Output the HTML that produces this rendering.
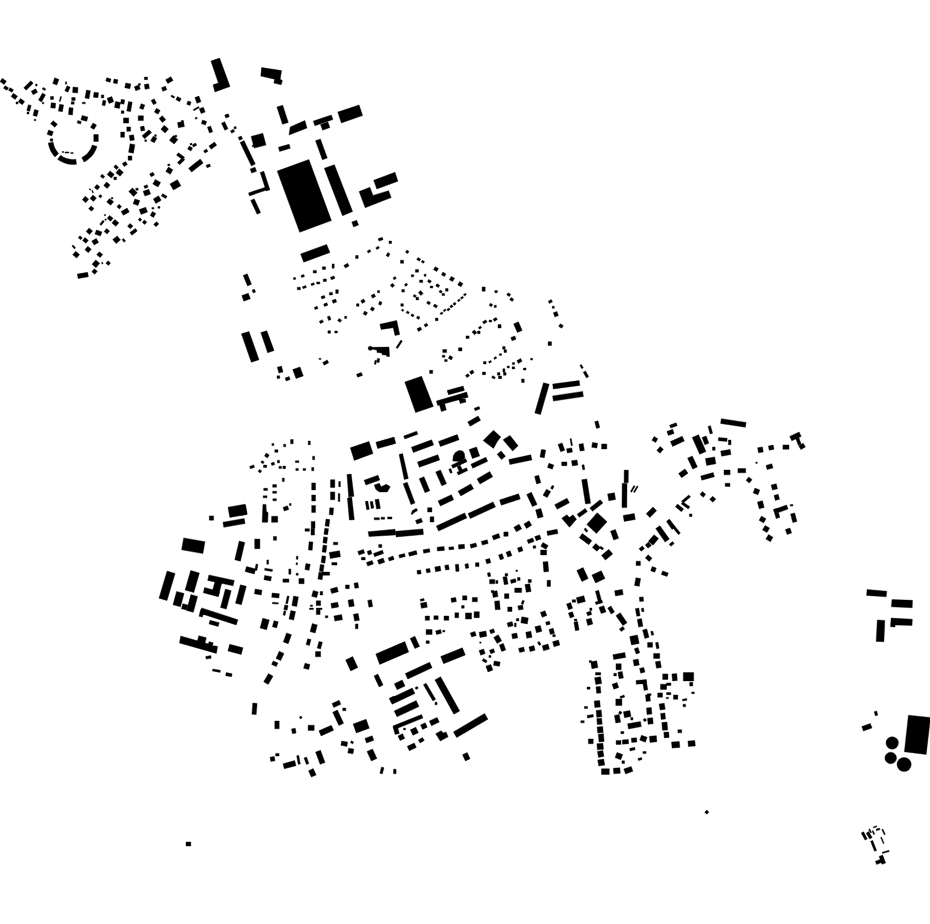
<!DOCTYPE html>
<html><head><meta charset="utf-8"><title>Map</title>
<style>html,body{margin:0;padding:0;background:#fff;width:930px;height:924px;overflow:hidden;font-family:"Liberation Sans",sans-serif}svg{display:block}</style>
</head><body><svg width="930" height="924" viewBox="0 0 930 924"><rect width="930" height="924" fill="#fff"/><g fill="#000" stroke="#000" stroke-width="0.4"><path d="M2.3 78.3 6.4 81.2 4.1 84.5 0 81.6ZM5 85.7 8.5 87.7 7 90.3 3.5 88.3ZM10 87.7 13.5 89.7 12 92.3 8.5 90.3ZM13.4 93.3 17.5 96.2 15.2 99.5 11.1 96.6ZM20.5 98.5 24.6 101.4 22.3 104.7 18.2 101.8ZM16 102 18 102 18 104 16 104ZM28.3 104.7 31.2 105.5 29.7 111.3 26.8 110.5ZM34.5 109.6 38.4 110.6 36.9 116.4 33 115.4ZM34.2 119.2 35.8 119.2 35.8 120.8 34.2 120.8ZM27 112 29 112 29 114 27 114ZM23.8 87.8 30.8 80.8 33.2 83.2 26.2 90.2ZM35.6 84 37.1 84 37.1 86 35.6 86ZM31.2 91.3 35.6 88.8 37.6 92.3 33.2 94.8ZM43.2 87.4 45.8 88.9 44.8 90.6 42.2 89.1ZM38.5 100.1 42.5 93.1 45.5 94.9 41.5 101.9ZM42.2 102.2 43.8 102.2 43.8 103.8 42.2 103.8ZM54.7 77.8 58.9 79.4 56.9 85 52.7 83.4ZM65.4 81.8 66.6 81.8 66.6 84.2 65.4 84.2ZM67.1 85.8 70.2 87.2 67.9 92.2 64.8 90.8ZM73 87 78 87.5 77.6 93 72.6 92.5ZM50.5 96.5 53.5 96.5 53.5 99.5 50.5 99.5ZM60.5 96.4 61.6 96.7 60.3 101.6 59.2 101.3ZM51.2 102.8 55.7 103.2 55.2 108.2 50.7 107.8ZM59.6 104.2 63.6 104.9 62.4 111.8 58.4 111.1ZM71.7 97.5 75.2 97.5 75.2 100.5 71.7 100.5ZM71.2 101.8 74.2 101.8 74.2 104.2 71.2 104.2ZM69.1 107.6 73.1 108 72.5 115 68.5 114.6ZM82.3 102.2 85.3 102.2 85.3 103.8 82.3 103.8ZM86.4 90.1 90.4 90.8 89 98.7 85 98ZM94 92.3 98.5 92.7 98 97.7 93.5 97.3ZM101.3 94.9 103.8 94.9 103.8 97.9 101.3 97.9ZM103 100.3 105.9 100.8 105 105.7 102.1 105.2ZM107.1 98.3 111.8 96.6 113.7 101.7 109 103.4ZM115.6 101.6 120.5 102.5 119.4 108.4 114.5 107.5ZM106.7 77.7 111 78.9 110.1 82.3 105.8 81.1ZM114 79.1 117.9 79.8 117.2 83.7 113.3 83ZM82.1 115.5 87.9 117 86.7 121.3 80.9 119.8ZM77.8 120.6 81.2 121.5 80.6 124 77.2 123.1ZM97 146.4 96.3 148.6 95.3 150.7 94.2 152.7 92.9 154.7 91.4 156.4 89.7 158.1 87.9 159.6 86 160.9 84 162 81.8 157.5 83.4 156.6 84.9 155.5 86.4 154.4 87.7 153.1 88.9 151.6 90 150.1 90.9 148.5 91.6 146.8 92.2 145ZM76.5 164.3 74.3 164.5 72 164.5 69.8 164.3 67.6 163.9 65.5 163.3 63.4 162.6 61.3 161.6 59.4 160.5 57.6 159.2 60.7 155.3 62.1 156.3 63.7 157.2 65.3 158 67 158.6 68.7 159 70.4 159.3 72.2 159.5 74 159.5 75.8 159.3ZM55 156.9 53.5 155.2 52.2 153.4 51 151.5 50.1 149.4 49.3 147.3 48.7 145.2 48.2 143 53.2 142.3 53.5 144 54 145.8 54.6 147.5 55.4 149.1 56.4 150.6 57.4 152 58.6 153.4ZM50.2 138.8 52.8 138.8 52.8 141.2 50.2 141.2ZM48.6 130 53.3 131.7 51.8 136 47.1 134.3ZM53.2 120.7 57.4 124.2 54.8 127.3 50.6 123.8ZM93 123 96.5 125 94 129.4 90.5 127.4ZM93.8 134.5 98.3 134.5 98.3 141.5 93.8 141.5ZM62.2 151.5 63.8 151.5 63.8 152.5 62.2 152.5ZM65 151.9 69 151.9 69 153.1 65 153.1ZM70.8 152.4 73.2 152.4 73.2 153.6 70.8 153.6ZM210.9 61.1 219.6 58.1 230 86.5 214.9 91.9 213 84.8 218.4 83.1ZM125.7 83 130.8 83.9 129.9 88.7 124.8 87.8ZM134.3 86.7 138.9 85 140.3 89.1 135.8 90.8ZM138.4 83.6 140.4 83.6 140.4 85.3 138.4 85.3ZM144.4 77.1 147.5 77.1 147.5 79.7 144.4 79.7ZM144.3 84.5 148.6 83.8 149.4 88.5 145.1 89.3ZM165.6 79.7 170.9 76.7 173.1 80.5 167.8 83.5ZM161.5 87.7 165.5 86.2 166.8 89.8 162.8 91.3ZM171.7 94.9 174.7 96.7 173.9 98.2 170.9 96.4ZM177.5 96.6 181.3 98.7 179.5 101.7 175.8 99.6ZM187.9 100.9 191.1 102.1 190 105.4 186.7 104.2ZM194.9 97.6 198.9 96.1 201 101.8 196.9 103.3ZM193.2 109.6 198.5 106.6 199.2 107.8 193.9 110.8ZM199.3 108.7 203.4 107.2 205.2 112.1 201.1 113.6ZM194.9 118.1 196.7 117.1 197.4 118.3 195.6 119.3ZM202.6 120 206.7 121.5 205.4 125.1 201.3 123.6ZM207.4 127.2 210.6 126 212.7 131.7 209.5 132.9ZM224.7 115.1 228.3 113.8 229.3 116.8 225.8 118.1ZM221.5 123.2 224.7 121.7 228 128.8 224.8 130.3ZM230.4 130.9 233.4 129.2 234.7 131.4 231.7 133.2ZM234.1 126.7 236.2 126.7 236.2 128.8 234.1 128.8ZM238.2 137.2 241.4 136.1 242.5 139 239.3 140.2ZM244 140.6 255.3 164 251.4 165.9 240.1 142.5ZM251.1 136.4 262.8 133.3 266 145 254.2 148.1ZM252.3 145 254.4 145 254.4 146.8 252.3 146.8ZM250.2 169 255 167.2 256.5 171.3 251.6 173.1ZM263.8 171.3 269.9 189.8 266.2 191 260.2 172.5ZM248.5 192.9 266.3 186.9 267.3 189.8 249.5 195.9ZM254.2 198.8 260.6 212.6 257.1 214.2 250.7 200.4ZM121.3 99.3 124.7 99.9 123.9 104.2 120.5 103.6ZM128.5 101.6 132.2 102.2 130.6 111.6 126.8 111ZM121.3 110.8 123.9 110.8 123.9 113.4 121.3 113.4ZM123.5 117.9 128.7 117.9 128.7 123.1 123.5 123.1ZM126.8 126.9 130.6 126.9 130.6 131.3 126.8 131.3ZM120.7 132.1 124.5 132.1 124.5 137.3 120.7 137.3ZM129.2 135.6 133.5 134.8 134.4 140 130.1 140.7ZM130.1 143.8 134.9 144.7 133.4 153.2 128.6 152.3ZM128.1 155.9 131.9 155.9 131.9 160.2 128.1 160.2ZM122.3 163.5 125.6 161.6 127.4 164.6 124.1 166.5ZM141.2 103.7 144.8 105 143.1 109.5 139.5 108.2ZM138.2 115.8 143.4 115.8 143.4 120.6 138.2 120.6ZM140.3 126.8 144 126.1 144.8 130.4 141 131.1ZM142.1 135.8 149 129.8 151.6 132.6 144.6 138.7ZM144.8 139.8 146.5 139.8 146.5 141.6 144.8 141.6ZM153.2 136.2 156.9 138.3 154.3 142.8 150.6 140.7ZM154.6 134.7 156.4 134.7 156.4 136.4 154.6 136.4ZM151.1 100.5 154.1 98.8 156.5 103 153.5 104.7ZM156.4 108.3 160.2 110.5 158 114.2 154.3 112.1ZM159.1 118.5 162.4 115.7 165.8 119.7 162.4 122.5ZM164.2 125.3 168.5 128.9 165.1 132.9 160.9 129.3ZM173.3 135.6 177.9 139.5 174.1 144.1 169.4 140.2ZM174.7 135.2 176.8 135.2 176.8 136.9 174.7 136.9ZM177.5 122.6 183.5 121.5 184.4 126.6 178.4 127.7ZM181.3 120.5 183.4 120.5 183.4 122.2 181.3 122.2ZM178.4 152.8 184.6 157.3 182.8 159.8 176.6 155.3ZM184.8 159.7 179.6 164.8 177.4 162.6 182.6 157.4ZM188.6 168.3 200.2 159.1 203.2 162.9 191.6 172.1ZM189.3 146.1 192.6 148 190.9 151 187.6 149.1ZM192.2 144.9 195.5 143 196.8 145.2 193.5 147.1ZM190.1 143.3 191.9 143.3 191.9 145 190.1 145ZM208.9 146.1 214.5 142.1 216.7 145.2 211.2 149.2ZM203.6 150.8 206.6 149.1 207.9 151.4 204.9 153.1ZM206.1 165.3 209.7 164 210.5 166.4 207 167.7ZM168.4 167.1 172.9 169.7 170.3 174.2 165.8 171.6ZM167.8 164.1 169.9 164.1 169.9 165.8 167.8 165.8ZM169.9 184 177.4 179.7 180.9 185.7 173.4 190ZM149.6 174.1 152.9 172.2 154.5 174.9 151.2 176.8ZM155.4 179.4 160.6 182.4 158 186.9 152.8 183.9ZM143.9 186 147.2 184.8 148 187.2 144.8 188.4ZM143.1 191.3 148.8 189.2 150.6 194.1 144.9 196.1ZM128.7 191.5 132.4 187.9 137.3 192.8 133.6 196.4ZM135.8 188.2 138.2 188.2 138.2 190.2 135.8 190.2ZM134.9 198.9 139.8 200.6 138 205.5 133.1 203.7ZM153.3 198.9 158.6 195.8 161.2 200.3 155.9 203.4ZM162.6 193.7 167.1 196.3 165.8 198.5 161.3 196ZM121.1 211.6 127.1 208.1 129.3 211.9 123.3 215.3ZM139.2 209.6 145.7 207.2 147.5 212.1 141 214.5ZM151.9 207.4 153.9 207.4 153.9 209.1 151.9 209.1ZM157.9 206.5 160 206.5 160 208.2 157.9 208.2ZM96.9 184.4 99.9 186.9 97.4 189.9 94.4 187.4ZM106.6 182 110.1 184.9 107.2 188.4 103.7 185.5ZM89.4 188.5 91 189.5 90.6 190.2 89 189.2ZM91.7 190.6 92.6 190.3 93.5 192.7 92.6 193.1ZM85.2 196.3 88.7 199.2 85.7 202.7 82.3 199.8ZM93 195 96.4 197.9 93.5 201.4 90 198.5ZM100.2 194.4 102.2 196.1 100.5 198.1 98.6 196.4ZM91 205.9 94 208.4 91.6 211.2 88.6 208.7ZM109.6 198.4 113.6 201.7 110.7 205.2 106.7 201.9ZM111.3 197.4 112.9 197.4 112.9 199 111.3 199ZM119 204.3 121.5 206.4 119.4 208.9 116.9 206.8ZM104.3 214.4 105.6 214.4 105.6 215.7 104.3 215.7ZM109.6 215.4 113.1 218.3 110.6 221.3 107.1 218.3ZM114.8 219.4 118.8 222.8 115.9 226.3 111.9 222.9ZM99.7 224.2 102.9 220.3 104.3 221.5 101.1 225.4ZM104.9 219 106.2 219 106.2 220.3 104.9 220.3ZM130 223.4 133 225.9 130.5 228.8 127.5 226.3ZM129.9 232.6 135.4 228.4 137.3 231 131.9 235.2ZM144.3 219.9 146.8 222 144.7 224.5 142.3 222.4ZM139.8 217.8 141.8 219.5 140.2 221.4 138.2 219.8ZM152.4 211.5 155.8 213.4 153.5 217.4 150.2 215.4ZM153.7 224.2 156.7 221.7 158.8 224.1 155.8 226.7ZM89.1 228.1 92.6 231 89.6 234.5 86.1 231.6ZM96.5 229.9 102 231.9 100.4 236.1 94.9 234.1ZM106.6 228.6 109.6 231.1 107.1 234 104.1 231.5ZM79.9 235.8 82.3 237.8 80.7 239.8 78.2 237.7ZM85 237.4 88.4 240.4 85.9 243.3 82.5 240.4ZM91.8 241 96.3 238.4 98.6 242.4 94.1 245ZM112.7 239.6 117.2 235.9 120.5 239.9 116.1 243.6ZM122 239.8 123.5 238.5 125.6 241 124.1 242.3ZM71.9 245.9 73.1 244.9 75.6 247.9 74.4 248.9ZM87.8 246.3 91.3 249.2 88.3 252.7 84.9 249.8ZM75.6 251.3 79.6 254.6 76.6 258.1 72.7 254.7ZM99.3 251.7 102.7 254.6 100.2 257.6 96.7 254.7ZM95.7 259.9 99.7 263.2 96 267.7 92 264.3ZM101.7 262.5 103 262.5 103 263.8 101.7 263.8ZM108 260.8 110.5 262.9 108.4 265.4 105.9 263.3ZM94.3 268.8 97.3 271.3 94.8 274.3 91.8 271.8ZM77.3 274.1 87.6 272.3 88.4 276.8 78.1 278.6ZM261.6 67.5 281.6 70.6 280.2 79.2 282.4 80.6 281.2 84.8 273.9 83.1 274.6 79.2 260.8 76.1ZM282.7 105.2 288.3 122.5 282.5 124.3 276.9 107ZM290.2 126.9 304.9 120.5 307 128.1 289 135ZM313.3 121.1 331.3 115 332.9 119.6 314.9 125.7ZM320.5 124.5 327.8 121.8 329.9 127.5 322.6 130.2ZM337.8 112.1 359.1 104.9 362.6 115.6 341.3 122.9ZM278.4 147.3 289.1 144.2 290.3 148.3 279.6 151.5ZM320.4 139 327.3 158 322.4 159.8 315.5 140.7ZM277.2 171.1 308.9 159.5 331.4 220.6 299.7 232.3ZM324.3 168.2 334.4 164.7 352.6 211.5 342.5 215.8ZM373.7 180.3 395 172.2 397.9 181.2 376.8 189ZM359.1 191.6 369.9 187.2 373 195.4 388.6 190.7 391.2 197.6 365.2 207.7ZM351.8 222 356.7 220.3 358.5 225.1 353.6 226.9ZM300.6 253.9 326.6 244.4 330 252.5 303.7 262.2ZM247.2 273.8 251.5 284.2 247.5 285.9 243.2 275.5ZM241.8 295.5 248.3 293.2 250.4 298.8 243.8 301.2ZM252.1 290.1 254.5 289.2 255.6 292.1 253.2 293ZM293.5 277.6 295.6 277.6 295.6 279.4 293.5 279.4ZM300.9 275.6 303.8 274.6 304.5 276.5 301.6 277.6ZM313.2 270.4 316.4 270.4 316.4 273 313.2 273ZM322.4 266.8 325.5 266.8 325.5 269.4 322.4 269.4ZM332.1 263.9 334.2 263.9 334.2 268.2 332.1 268.2ZM343.8 265.4 347.6 263.2 349.1 265.9 345.4 268.1ZM355.6 255.5 358.2 255.5 358.2 258.6 355.6 258.6ZM367.1 251.2 369.8 249.6 370.9 251.4 368.2 253ZM375.8 247.7 378.5 246.2 379.5 248 376.8 249.5ZM378.1 238.7 382.2 237.2 383.1 239.7 379 241.1ZM389 241 391.6 241 391.6 243.6 389 243.6ZM387.8 252.6 390 253.9 388.3 256.9 386.1 255.6ZM297.3 287.2 300.4 287.2 300.4 289.8 297.3 289.8ZM302.4 286.8 305.7 285.6 306.4 287.5 303.1 288.7ZM310.9 283.8 313.8 282.7 314.5 284.6 311.6 285.7ZM316.7 281.9 319.8 281.9 319.8 284 316.7 284ZM323.3 278.9 326.4 278.9 326.4 281.5 323.3 281.5ZM330.4 277.2 334 275.9 334.9 278.4 331.3 279.7ZM321 296.6 324.3 295.4 325.2 297.8 321.9 299ZM329.4 292.4 332.5 292.4 332.5 295 329.4 295ZM335.7 289.7 338.3 289.7 338.3 293.5 335.7 293.5ZM332 300.4 335.6 299.1 336.7 302 333.1 303.3ZM323.6 304 326.9 302.8 327.8 305.3 324.5 306.4ZM314.3 307.3 317.2 306.3 318.1 308.5 315.1 309.6ZM371.1 295.5 374.1 293.8 375.6 296.5 372.6 298.2ZM377.5 290.6 379.6 290.6 379.6 292.7 377.5 292.7ZM360.7 300.7 363.7 299 365.2 301.7 362.2 303.4ZM356.5 303.7 359 303.7 359 306.3 356.5 306.3ZM379.6 301.3 382 302.2 380.9 305.2 378.5 304.3ZM390.2 285.2 392.6 283.2 394.6 285.6 392.2 287.6ZM393 277.9 395.2 276.6 396.3 278.4 394 279.7ZM406.8 250.1 409 251.4 407.7 253.6 405.5 252.3ZM400.5 260.2 403.6 260.2 403.6 263.3 400.5 263.3ZM418 257.4 420.7 258.9 419.4 261.2 416.7 259.6ZM422.3 260.2 424.5 261.5 423.5 263.3 421.2 262ZM415.4 269.6 418.5 269.6 418.5 272.2 415.4 272.2ZM411.2 274.7 413.8 274.7 413.8 276.8 411.2 276.8ZM424.1 274.2 426.1 274.2 426.1 276.3 424.1 276.3ZM435.2 266.7 438.5 268.6 436.8 271.6 433.5 269.7ZM442.9 272.1 445.9 273.9 444.4 276.6 441.4 274.8ZM451.3 276.4 454.6 278.3 452.6 281.6 449.3 279.7ZM459.6 281.6 462.9 283.5 461 286.8 457.7 284.9ZM419.6 280 422.7 280 422.7 282.6 419.6 282.6ZM428.7 279.4 431.4 280.9 430.1 283.2 427.4 281.6ZM430.2 286 432.8 286 432.8 288 430.2 288ZM437 283.7 439.7 285.3 438.4 287.5 435.7 286ZM404.4 284.8 406.4 283.1 407.7 284.7 405.7 286.4ZM401.8 289.5 404.4 289.5 404.4 292.1 401.8 292.1ZM418.4 292.6 420.7 290.6 423.2 293.5 420.8 295.5ZM414.1 294.4 416.4 295.7 415.3 297.5 413.1 296.2ZM416 297.3 418.6 297.3 418.6 299.9 416 299.9ZM440.1 290.1 442.3 291.4 441.3 293.2 439 291.9ZM442 293.6 444.6 293.6 444.6 295.6 442 295.6ZM445.5 288.6 448.1 288.6 448.1 291.2 445.5 291.2ZM400.8 303.7 403.4 303.7 403.4 306.3 400.8 306.3ZM402.1 308.9 403.9 310 403.1 311.5 401.3 310.4ZM407.2 310.9 409.4 312.2 408.4 314 406.1 312.7ZM411.9 313.8 414.1 315.1 413.1 316.9 410.8 315.6ZM417.7 315.9 420 317.2 418.7 319.4 416.4 318.1ZM427.9 301 430.6 302.6 429.3 304.8 426.6 303.3ZM434.6 304 437.6 305.8 436.3 308 433.3 306.3ZM440 313.3 442.1 311.9 443.1 313.3 441 314.8ZM443.1 310.4 445.2 308.9 446.2 310.3 444.1 311.8ZM446.8 309.4 449 307.9 450.1 309.6 448 311.1ZM449.8 306.3 451.9 304.8 453.1 306.5 451 308ZM452.9 303.7 455 302.2 456.2 303.9 454.1 305.4ZM457.3 300.4 459.4 298.9 460.4 300.3 458.3 301.8ZM460.4 297.8 462.6 296.3 463.6 297.7 461.4 299.2ZM463.4 294.6 465.5 293.2 466.5 294.6 464.4 296.1ZM435.4 318.1 438 318.1 438 320.7 435.4 320.7ZM424 324.7 426.7 323.2 428 325.4 425.3 327ZM417 328.8 420.3 326.9 421.8 329.6 418.5 331.5ZM482.1 286.9 485.2 286.9 485.2 291.2 482.1 291.2ZM494.8 290.6 497.4 290.6 497.4 292.7 494.8 292.7ZM508 292.7 510.7 294.3 509.4 296.5 506.7 295ZM511 297.6 513.7 299.1 512.4 301.4 509.7 299.8ZM490.4 303.2 492.7 304.5 491.4 306.8 489.1 305.5ZM494.2 305.3 496.3 305.3 496.3 307.4 494.2 307.4ZM548.2 301.3 551.2 299.5 552.5 301.8 549.5 303.5ZM552.2 306.2 554.3 306.2 554.3 308.3 552.2 308.3ZM553.3 312.8 556.9 311.5 558.4 315.6 554.8 316.9ZM466 335.9 469.1 335.9 469.1 338.5 466 338.5ZM472 331.9 474.4 329.9 476.9 332.8 474.5 334.8ZM477.5 331.1 480.1 331.1 480.1 333.7 477.5 333.7ZM478.3 327.7 480.3 326.1 481.7 327.6 479.7 329.3ZM482.5 321.8 485.8 319.9 487.1 322.1 483.8 324ZM489.1 320.1 491.7 320.1 491.7 322.1 489.1 322.1ZM493.1 319.1 496.1 317.4 497.4 319.6 494.4 321.4ZM498 324.6 501.1 324.6 501.1 328 498 328ZM518.4 321.8 522.2 330.4 517.4 332.5 513.6 323.9ZM510.8 337.5 514.9 336.1 516 339.3 512 340.8ZM548.1 341.7 551.5 341.7 551.5 345.5 548.1 345.5ZM442.8 349.5 446.6 349.5 446.6 352.6 442.8 352.6ZM442.3 355.2 444.9 355.2 444.9 357.3 442.3 357.3ZM444.6 359.5 447.2 359.5 447.2 361.6 444.6 361.6ZM449.8 355.6 452.8 357.3 451.3 360 448.3 358.3ZM458.5 347.8 462 347.8 462 350.9 458.5 350.9ZM429.6 370.3 432.7 370.3 432.7 373.4 429.6 373.4ZM502.6 346.6 505.2 346.6 505.2 349.2 502.6 349.2ZM504 349.8 506.6 349.8 506.6 352.4 504 352.4ZM499.4 353.7 501.5 353.7 501.5 355.4 499.4 355.4ZM493.7 357.9 495.9 356.6 496.8 358.1 494.5 359.4ZM488.5 361.7 490.7 360.4 491.6 361.9 489.4 363.2ZM483.5 361.4 486.1 361.4 486.1 364 483.5 364ZM516.8 360.7 520.6 358.5 522.1 361.2 518.4 363.4ZM512.4 362.5 514.5 362.5 514.5 364.6 512.4 364.6ZM512.1 366.8 514.7 366.8 514.7 368.9 512.1 368.9ZM507.2 366 509.3 366 509.3 368 507.2 368ZM523.4 368 526 368 526 370.1 523.4 370.1ZM530.6 358.3 532.6 358.3 532.6 360.1 530.6 360.1ZM502.9 368.7 504.9 368.7 504.9 372.2 502.9 372.2ZM497.4 372.6 500 372.6 500 375.2 497.4 375.2ZM498.5 376.1 501.6 376.1 501.6 378.7 498.5 378.7ZM503.5 372.6 506.1 372.6 506.1 375.2 503.5 375.2ZM492.7 375.7 495.4 377.3 494.3 379.1 491.6 377.5ZM482.4 372.1 485.5 372.1 485.5 374.7 482.4 374.7ZM469.6 371.7 472.6 370 474.1 372.7 471.1 374.4ZM465.5 375.3 468.2 373.7 469.5 376 466.8 377.6ZM521.6 379.1 524.2 379.1 524.2 382.6 521.6 382.6ZM319.2 321.4 322.2 319.7 323.5 321.9 320.5 323.6ZM327.3 316.8 329.7 315.9 331 319.5 328.6 320.4ZM338.9 318.5 341.6 320.1 340.3 322.3 337.6 320.8ZM344.6 316.3 346.7 316.3 346.7 318.4 344.6 318.4ZM327.9 330.7 330.5 330.7 330.5 333.3 327.9 333.3ZM334.8 331 337.4 331 337.4 333.1 334.8 333.1ZM241.4 333.8 249 331.5 259 359.7 251.3 362.3ZM260.8 332.6 266.8 330.8 274.1 350.6 267.7 352.8ZM277.3 367.2 281.5 366.1 283 372 278.9 373.1ZM277.1 375.8 279.7 375.8 279.7 378.4 277.1 378.4ZM285.1 378.1 289.1 376.6 290.2 379.5 286.1 381ZM292.7 369.6 300 366.9 303.3 375.9 296 378.5ZM319.1 358.2 320.9 358.2 320.9 359.6 319.1 359.6ZM322.7 362.6 327.2 360 328.7 362.7 324.2 365.3ZM356.5 374.2 361.4 372.5 362.5 375.4 357.6 377.2ZM379.9 324.2 396.7 320.4 399.7 334.6 395 335.5 393.2 327.7 381.1 329.4ZM271.9 443.5 273.9 443.5 273.9 445.6 271.9 445.6ZM274.8 449.7 277.9 449.7 277.9 452.3 274.8 452.3ZM266.2 453.1 269.2 454.9 267.5 457.9 264.5 456.1ZM283.6 444.2 285.7 444.2 285.7 446.8 283.6 446.8ZM290.6 439.5 293.2 439.5 293.2 443.8 290.6 443.8ZM308.2 441 310.3 441 310.3 444.8 308.2 444.8ZM312.6 456.2 314.6 456.2 314.6 459.7 312.6 459.7ZM375.9 442.3 394.1 437.1 395.8 443.4 377.7 448.6ZM350.3 447.8 369 441.4 373 453.5 354.3 460.4ZM261.9 460.6 264.2 461.9 263.1 463.7 260.9 462.4ZM249.6 466.4 253.7 464.9 254.6 467.3 250.5 468.8ZM259.4 469.4 261.7 470.7 260.4 472.9 258.1 471.6ZM263.5 465 266.7 465 266.7 467.6 263.5 467.6ZM271 463.2 273.9 462.1 274.8 464.6 271.9 465.6ZM277.4 460.3 279.5 460.3 279.5 462.9 277.4 462.9ZM278.9 466.3 281.5 466.3 281.5 468.4 278.9 468.4ZM282.9 466.1 285.5 466.1 285.5 468.7 282.9 468.7ZM295.4 460.8 298.9 460.8 298.9 462.5 295.4 462.5ZM295.8 468.4 298.4 468.4 298.4 470.5 295.8 470.5ZM303.1 468.4 305.7 468.4 305.7 470.5 303.1 470.5ZM311.7 467.4 313.8 467.4 313.8 470.8 311.7 470.8ZM282.3 478.1 284.3 478.1 284.3 481.6 282.3 481.6ZM263.7 488.3 267.5 488.3 267.5 490.4 263.7 490.4ZM272.7 484.6 276.5 484.6 276.5 487.2 272.7 487.2ZM272.7 491.3 276.5 491.3 276.5 493.3 272.7 493.3ZM263.2 495.8 267 495.8 267 497.8 263.2 497.8ZM272.9 498.7 276.4 498.7 276.4 500.8 272.9 500.8ZM283 507.4 287.5 505.8 288.8 509.4 284.3 511ZM289.4 503.4 291.1 503.4 291.1 505.5 289.4 505.5ZM262.9 504.4 266 504.4 266.3 511.3 268.1 512.7 267.7 522.3 262.2 522.3ZM271.6 516.3 277.7 516.3 277.7 522.3 271.6 522.3ZM239 506 245.5 504.9 247.2 514.2 240.7 515.4ZM273.4 536.5 276.5 536.5 276.5 540.3 273.4 540.3ZM254.7 539.1 259.9 539.1 259.9 548.7 254.7 548.7ZM311.7 482.9 315.5 482.9 315.5 489.9 311.7 489.9ZM311.7 495 315.5 495 315.5 501 311.7 501ZM311.7 505.5 315.5 505.5 315.5 512.4 311.7 512.4ZM311.2 521.4 315 521.4 315 528.3 311.2 528.3ZM311 528.5 314.5 528.5 314.5 535.1 311 535.1ZM309.1 541.7 312.9 542 312.2 550.3 308.4 549.9ZM305 528.7 309.4 528.7 309.4 531.3 305 531.3ZM330.5 479.7 334.8 479.7 334.8 487.5 330.5 487.5ZM338.7 481.6 340.4 481.6 340.4 486.8 338.7 486.8ZM330.5 491.9 334.8 491.9 334.8 499.7 330.5 499.7ZM338.2 493.6 339.9 493.6 339.9 501.4 338.2 501.4ZM329.8 507.7 333.6 508.1 333 515 329.2 514.6ZM347 474.6 351.2 474.1 353.9 496.3 348.7 497.1ZM347.4 498 351.7 497.1 354.3 519.7 349.4 520ZM326 519.1 329.8 519.6 328.9 526.5 325.1 525.9ZM324.8 528.2 328.5 528.7 327.7 534.7 323.9 534.2ZM323.7 536.8 327.5 537.4 326.7 543.4 322.9 542.8ZM323.1 545 326.9 545.6 325.9 552.4 322.1 551.9ZM322.1 555.8 325.8 556.3 324.9 563.2 321.1 562.6ZM320.3 564.4 324.1 565 323.1 571.8 319.4 571.3ZM318.9 572.2 323.1 572.8 322.2 579.7 317.9 579.1ZM321.8 572.1 329.6 572.1 329.6 575.2 321.8 575.2ZM333.4 542.3 337.7 542.3 337.7 544.8 333.4 544.8ZM329.2 552.5 339.5 550.7 340.5 556.7 330.3 558.5ZM331.8 562.5 337 562.5 337 565.1 331.8 565.1ZM364.1 480.2 378 475.2 379.8 480.1 365.9 485.1ZM374.2 485 379.4 483.3 381.1 486.8 386.3 484.2 390.3 486.8 387.2 491.9 379.4 491.9 375.9 489.4ZM365.3 501.6 367.8 501.1 369.3 509.3 366.7 509.8ZM370.1 501.7 372.6 501.3 373.8 508.1 371.3 508.6ZM375 499.7 378.7 499 380.4 508.4 376.6 509.1ZM374.2 517.7 379.4 517.7 379.4 519.8 374.2 519.8ZM381.1 517.2 384.6 517.2 384.6 519.3 381.1 519.3ZM387.6 516.9 391.9 516.9 391.9 519 387.6 519ZM368.1 531.8 395 529.2 395.8 534.9 369 536.6ZM378.7 544.4 381.8 544.4 381.8 547.5 378.7 547.5ZM357.7 551.5 363.4 549.4 364.7 553 359 555ZM367.1 551.4 370.7 550.1 372 553.7 368.4 555ZM373.5 553.4 382.4 550.2 383.6 553.4 374.6 556.7ZM361.4 557.3 365.2 557.3 365.2 559.9 361.4 559.9ZM366.4 562.5 372.1 560.5 373.4 564 367.7 566.1ZM377.5 560.2 383.2 558.1 384.7 562.2 379 564.3ZM388.1 557.9 393 556.1 394.2 559.4 389.3 561.1ZM255.2 589 262 590.2 261.2 595 254.4 593.8ZM272.1 593.1 279.3 593.7 278.9 597.9 271.7 597.3ZM282.9 578.9 288.9 578.9 288.9 582.3 282.9 582.3ZM288.8 569 290.9 569 290.9 574.2 288.8 574.2ZM298.9 578.5 304.1 578.5 304.1 583.7 298.9 583.7ZM296.1 573.2 298.2 573.2 298.2 575.2 296.1 575.2ZM296.3 556.2 298 556.2 298 559.3 296.3 559.3ZM296.1 562.8 297.5 562.8 297.5 564.8 296.1 564.8ZM246.5 566.5 255.7 568.9 254.3 574 245.1 571.5ZM256 564.1 258 564.5 256.9 570.4 254.9 570.1ZM266.8 559.9 268.6 559.9 268.6 564.2 266.8 564.2ZM264.9 568.2 272.6 569.5 272.2 571.6 264.6 570.2ZM264.7 575.4 271.5 576.7 270.7 580.9 263.9 579.7ZM305.9 563.6 310.2 564.3 309.1 570.3 304.9 569.5ZM313.2 590.6 318.2 591.9 316.7 597.6 311.7 596.3ZM320.1 591.5 322.7 591.5 322.7 595 320.1 595ZM330.4 588.9 337.1 587.1 338.3 591.7 331.7 593.5ZM345.5 584.9 349.3 584.9 349.3 588.7 345.5 588.7ZM354 583.2 357.8 582.6 358.7 587.7 354.9 588.3ZM404.8 382.1 421.6 376.2 433.4 406.5 415.6 412.6ZM447.1 390.4 463.2 386.1 464.4 390.4 448.5 394.7ZM436.4 401.1 466.7 392.1 468.1 397.3 437.7 405.6ZM439.5 404.7 444.6 403.3 446.3 410 441.3 411.4ZM458.6 397.8 464.5 396.2 466 402.1 460.2 403.6ZM474.2 408.2 479.1 406.5 479.9 408.9 475.1 410.7ZM467.7 422.1 478.1 416.1 480.6 420.3 470.1 426.3ZM534.8 413 543.5 382.7 549.2 384.3 540.5 414.6ZM403.7 436 416.7 431.2 417.8 434.2 404.8 438.9ZM411.4 447.2 431.7 439.8 433.6 445 413.3 452.5ZM438.5 441.4 457.2 434.6 459.1 439.8 440.4 446.6ZM417.5 462.1 437.8 454.7 439.7 459.9 419.3 467.3ZM483.1 440.6 493.5 430.2 500.8 437.1 497.3 441.5 493.5 448.4ZM503 439.7 510 435.4 518.1 445.8 512.6 451ZM497.1 454.3 501.1 451 505.5 456.3 501.5 459.6ZM508.8 459.5 530.8 454.8 531.9 459.9 509.9 464.5ZM469.2 449.6 476.5 446.9 479.7 455.9 472.4 458.5ZM452.8 461 453.3 455.8 455.4 452.4 458.9 450.5 462.7 451 464.4 453.6 464.9 457.9 460.6 461.4ZM451.4 465.2 465.6 458.6 467 461.7 452.9 468.3ZM457.1 466.7 460.2 465.2 462.4 469.9 459.3 471.4ZM457 472.2 466.4 467.8 467.7 470.6 458.3 475ZM448.8 469.2 450.8 468.5 452.3 472.6 450.3 473.3ZM470.9 464.3 485.8 457.3 487.7 461.3 472.8 468.2ZM477 478.9 489.7 471.5 492.7 476.8 480 484.1ZM399.1 454.5 402.6 453.6 408.3 478.4 404.3 479.6ZM407.2 482.3 415 503 411 504.6 403.2 483.8ZM424 476.8 429.8 490.7 425 492.7 419.2 478.8ZM440.5 469.9 446.5 483.7 441.8 485.8 435.7 472ZM458 491.2 470.8 483.9 473.6 488.7 460.8 496ZM438 500.9 451.4 494.7 453.7 499.7 440.4 506ZM411.8 510.9 416.3 508.3 417.6 510.6 413.1 513.2ZM411.3 512.5 413 512.5 413 514.2 411.3 514.2ZM427.6 507.7 431.9 507.7 431.9 512 427.6 512ZM415.5 520.4 421.2 518.3 422.5 521.9 416.9 524ZM430.1 516.8 433.9 516.8 433.9 522 430.1 522ZM436.3 526.1 464.6 512.9 466.9 517.9 438.6 531.1ZM468 513.6 493.1 501.9 495.5 506.9 470.3 518.6ZM499.6 499.9 518.6 493.8 520.3 499 501.3 505.2ZM531.4 492.3 537.1 504.4 532.4 506.6 526.7 494.5ZM535.6 509.9 540.9 508.4 543.2 516.8 537.8 518.2ZM541.4 449.4 545.7 450.1 544.3 457.8 540 457.1ZM548.9 463.3 553.8 465.1 552.3 469.2 547.5 467.4ZM534.6 476.4 538.7 475.2 540.8 482.8 536.6 483.9ZM546.5 489.2 550.7 491.6 547.2 497.6 543 495.2ZM552.3 485.3 554.1 486.4 552.4 489.4 550.6 488.3ZM395.7 531.3 422.9 528.9 423.4 534.5 396.1 536.9ZM513.8 527.3 519.1 524.3 521.7 528.8 516.4 531.8ZM523.9 523.9 529.1 520.8 531.7 525.3 526.5 528.4ZM492.1 535.9 498.6 533.5 500.1 537.6 493.6 539.9ZM503.8 531.9 508.1 531.9 508.1 536.3 503.8 536.3ZM546.9 531.2 557.1 529.3 557.9 533.6 547.6 535.4ZM552.7 384.1 579.2 380.6 579.8 385.4 553.3 388.9ZM552.6 395.9 582.6 391.4 583.4 396.6 553.4 401.1ZM560.2 323.8 563.3 325.6 561.8 328.2 558.7 326.4ZM579.9 365.4 581.4 364.5 583.3 367.8 581.8 368.7ZM583.2 372.2 585.5 370.9 588.7 376.6 586.5 377.9ZM594.7 421.7 598 420.8 599.8 427.5 596.5 428.4ZM669.6 425.2 676.1 422.8 677.2 425.7 670.7 428.1ZM666.9 431.4 672.6 429.3 674.1 433.4 668.4 435.5ZM708 426.4 710.5 425.7 712.6 433.2 710.1 433.9ZM558 444.4 562.1 442.9 564.8 450.2 560.7 451.7ZM570 438.8 571.3 438.6 572.5 445.4 571.2 445.7ZM566.6 448.8 571.7 447.9 572.5 452.1 567.3 453ZM578.9 444.3 583.2 443.5 584.4 450.4 580.1 451.1ZM592.5 442.4 597.6 443.3 596.8 448.1 591.7 447.2ZM601.6 444 606.8 444 606.8 448.9 601.6 448.9ZM561.7 461.9 566.9 461.9 566.9 465.7 561.7 465.7ZM571.5 460.8 577 459.9 577.9 465 572.4 465.9ZM581.9 465 584 464.7 584.8 469.4 582.8 469.8ZM554.7 504.7 567 498.2 569.4 502.8 557.2 509.3ZM586.8 478.9 590.6 503.2 585.5 504 581.7 479.8ZM589.8 508 600.2 499.7 602.9 503 592.5 511.3ZM577.1 514.2 585.2 508.4 587.4 511.6 579.3 517.3ZM561.7 518.3 566.9 514.8 569.5 517.4 573 514.8 576.5 519.2 569.5 527.3ZM597.2 512.8 607.1 521.8 596.4 533.5 586.8 524.4ZM584 529.3 585.5 528 588 530.9 586.4 532.2ZM582.3 533.5 591.8 540.5 588.8 544.7 579.3 537.7ZM595.7 543.5 600.4 547.4 597 551.3 592.4 547.4ZM600.6 546.3 603.6 548.1 602.5 549.9 599.5 548.1ZM601.5 555.4 608.8 549.3 612.7 553.9 605.4 560.1ZM607.6 493.9 614.4 492.7 615.6 499.5 608.8 500.7ZM628.4 470.2 628.2 482.8 624.1 482.8 624.2 470.1ZM627 483.4 626.8 507.6 622 507.6 622.2 483.3ZM633.9 485.5 635.1 486.2 631.6 492.2 630.4 491.5ZM637 485.9 638.2 486.6 634.7 492.6 633.5 491.9ZM623.2 515.4 634.3 513.5 635.3 519.5 624.2 521.4ZM610.5 531.2 615.4 529.4 618.6 538.3 613.7 540.1ZM653 507 656.6 510.7 649.9 517.5 646.2 513.8ZM654.1 436.6 657.8 438.7 655.7 442.5 651.9 440.3ZM660.1 446.5 663.4 449.3 660.1 453.3 656.8 450.5ZM670.4 441.6 682.2 436.2 684.4 440.9 672.6 446.4ZM698.6 434.7 706 451.5 699.7 454.3 692.2 437.5ZM702.1 437.5 706.2 436 708.8 443.3 704.8 444.8ZM712.5 447.1 715.1 447.1 715.1 450.3 712.5 450.3ZM705.4 458.6 714.7 456.9 715.9 463.8 706.6 465.4ZM687.6 458.2 692.3 456 697.4 466.9 692.7 469.1ZM678.6 473.4 685 468.9 688 473.2 681.6 477.7ZM700.7 476 713.2 472.6 714.4 476.8 701.8 480.2ZM702.4 491.6 705.7 494.3 703.3 497.3 700 494.5ZM712.5 496.2 715.8 499 713 502.3 709.7 499.5ZM688.9 494.9 690.5 496.9 683.2 503 681.6 501ZM682.7 501.8 689.8 506.7 688.3 508.9 681.3 503.9ZM677.6 504.1 683.6 509.1 681.4 511.8 675.4 506.7ZM689.4 513.9 692 513.9 692 516.5 689.4 516.5ZM669.2 519.3 680.4 533.1 678.5 534.7 667.3 520.8ZM666.5 521.6 669.7 519.4 675.1 527.2 672 529.4ZM655.7 528.6 659.9 525.7 669.4 539.1 665.1 542.1ZM654 534.7 658.6 538.6 653 545.2 648.4 541.3ZM645.3 544.9 648.6 542.1 651.4 545.4 648 548.2ZM639 548.7 642.3 545.9 644.5 548.5 641.2 551.3ZM669.2 544.3 672.5 541.6 674.2 543.5 670.9 546.3ZM648.1 554.8 652 558.2 649.3 561.5 645.3 558.1ZM636.1 561.2 640.4 561.2 640.4 565.5 636.1 565.5ZM652.2 566.6 656.3 568.1 654.8 572.2 650.7 570.7ZM662.6 570.9 668.3 573 667 576.5 661.3 574.5ZM576.8 570.6 583.1 567.6 588.2 578.6 581.9 581.5ZM591.9 575.1 601.3 570.7 605 578.6 595.6 583ZM635.9 577.8 640.6 578.6 639.3 586.3 634.5 585.5ZM721.3 418.7 746.1 422.4 745.4 427.2 720.6 423.5ZM718.6 437.6 727.2 438.3 726.9 441.4 718.3 440.7ZM728.4 440 731 440 731 444.8 728.4 444.8ZM720.7 451.1 730.1 449.4 731 454.5 721.6 456.2ZM724 470 730.1 470 730.1 474.8 724 474.8ZM737.9 468.5 745.7 468.5 745.7 472.8 737.9 472.8ZM725.2 483.3 730 483.3 730 486.4 725.2 486.4ZM748.8 477 752.1 479.7 749.3 483 746 480.3ZM754.9 488.1 759.8 489.9 758 494.8 753.2 493ZM757.4 502.1 762.4 500.7 764.2 507.4 759.2 508.8ZM761.5 516.1 766 518.7 763.6 522.9 759.1 520.3ZM765.1 525.5 769.6 528.1 767 532.6 762.5 530ZM768.5 534.6 773 537.2 770.4 541.7 765.9 539.1ZM757.6 447.7 762.4 446.9 763.3 452 758.5 452.8ZM768.4 445.9 773.2 445.1 774 449.3 769.2 450.2ZM782.9 444.9 789 444.9 789 449.3 782.9 449.3ZM755.8 462 757.2 462 757.2 463.4 755.8 463.4ZM766 465.4 771.8 463.8 773 468 767.1 469.5ZM771.1 485.1 776.2 483.7 777.5 488.8 772.5 490.1ZM774 495.4 778.2 494.2 779.5 499.3 775.3 500.4ZM773.5 509.8 786.5 505 788 509.1 775 513.8ZM773.7 509.3 777.4 508.3 779.8 517.5 776.1 518.5ZM790.3 504.4 792.9 504.4 792.9 506.1 790.3 506.1ZM790.5 514.1 794.7 513 796.9 521.4 792.8 522.5ZM785.4 529.6 789.9 528 791.7 532.9 787.1 534.5ZM789.7 436.4 799.1 432 801.2 436.4 791.8 440.8ZM795.9 438.8 798.9 437.8 801.2 444.3 798.3 445.3ZM798.7 445.8 803.2 443.2 805.4 447 800.9 449.6ZM209.3 515.9 213.6 515.9 213.6 520.2 209.3 520.2ZM228 507.2 245.1 504.2 246.9 514.4 229.8 517.4ZM222.9 522.2 244.2 518.5 245.1 523.6 223.8 527.3ZM183.7 537.9 205 541.7 202.9 553.6 181.6 549.8ZM175.1 573.4 167 600.6 159 598.2 167.1 571.1ZM199.4 573 193.8 592.5 185.1 590.1 190.7 570.5ZM176.6 591.4 184.1 593.4 180.5 606.8 173 604.8ZM182.8 603.7 187.8 605 186.5 610.1 181.5 608.7ZM190.9 594.6 197.6 596.4 193.3 612.3 186.6 610.5ZM208.9 575 234.3 580.4 233.1 585.8 207.7 580.4ZM215 581.5 221.7 583.3 218.3 595.9 211.6 594.1ZM204.6 587.6 219.7 591.7 218.3 596.7 203.3 592.7ZM225.4 589.1 231.2 590.7 226.3 609.1 220.5 607.5ZM240.4 584.8 246.3 586.3 241.4 604.7 235.5 603.2ZM201.7 607.9 237.9 619.7 236.2 624.9 199.9 613.2ZM200.8 609.5 204.2 610.4 202.4 617.1 199 616.2ZM210 620.3 219.2 622.7 218.2 626.4 209 623.9ZM180.7 636.1 217.6 646.5 216.4 653.4 179.5 643ZM198.8 635.7 206.3 637.7 204.6 644.4 197 642.4ZM209 641.7 213.2 642.8 211.4 649.5 207.2 648.4ZM229.7 644.3 243 647.8 241.2 654.5 227.9 650.9ZM205.7 656.5 210.8 655.6 211.2 658.2 206.1 659.1ZM212.8 669 220.4 670.3 220.1 672.4 212.4 671ZM226.2 672.6 232.1 673.7 231.6 676.7 225.6 675.7ZM286.6 632.9 291.5 634.7 288.2 643.7 283.3 641.9ZM279.2 651.3 284 653.5 280.7 660.6 276 658.4ZM273.2 660.9 277.9 663.1 276.3 666.6 271.6 664.4ZM268.5 673.6 273 676.2 268.2 684.4 263.7 681.8ZM252.8 703 257.1 703.4 256.2 714.6 251.9 714.2ZM307.6 638.7 311 639.6 309.4 645.5 306.1 644.6ZM319 641.4 322.4 642.3 320.6 649 317.2 648.1ZM315.5 651.6 320.6 651.6 320.6 656.8 315.5 656.8ZM305 663.2 310 664.5 308.6 669.5 303.6 668.2ZM312.3 623.6 317.3 624.9 315.2 633 310.1 631.6ZM274.8 721 279.2 721 279.2 728.8 274.8 728.8ZM291.5 728.9 295.3 728.2 296.1 733 292.4 733.7ZM299.3 717.1 301.1 716 302.2 717.8 300.4 718.9ZM308.1 725.2 314.2 725.2 314.2 730.4 308.1 730.4ZM315.6 752.1 320.5 750.3 325 762.5 320.1 764.3ZM270 757.2 274.3 756.5 275 760.8 270.8 761.5ZM275.6 753.4 279.1 753.4 279.1 756 275.6 756ZM283 763.8 294.7 760.6 296 765.7 284.3 768.8ZM296.7 755.8 298.8 755.4 300.3 764 298.2 764.3ZM304 757.9 306.5 757 308.9 763.5 306.4 764.4ZM308.5 770.8 313.2 768.6 316.2 774.9 311.4 777.1ZM330.9 603.4 337.7 602.2 338.6 607 331.7 608.2ZM348 600.2 353.1 599.3 354.3 606.1 349.2 607ZM367.7 600.4 371.5 599.7 372.7 606.5 368.9 607.2ZM325.3 615.8 327.9 615.8 327.9 617.8 325.3 617.8ZM333.9 616 341.6 614.6 342.5 619.7 334.8 621.1ZM353.4 614.3 358.1 613.5 359.4 620.3 354.6 621.1ZM355.4 623.9 358 623.9 358 628.7 355.4 628.7ZM420.5 603.2 426.4 602.1 427.3 607.2 421.4 608.3ZM425.2 616 429.5 616 429.5 620.3 425.2 620.3ZM433.9 615.8 438.2 615.8 438.2 619.6 433.9 619.6ZM444 616 448.8 616 448.8 620.3 444 620.3ZM454.9 612.8 458.7 612.8 458.7 617.7 454.9 617.7ZM465.5 612.9 471.6 612.9 471.6 619 465.5 619ZM474.1 611.7 479.3 611.7 479.3 617.7 474.1 617.7ZM461.6 605.6 464.2 605.6 464.2 608.2 461.6 608.2ZM426.1 629.6 432.1 629.6 432.1 634.5 426.1 634.5ZM435.6 630.9 440.6 629.5 441.6 633.2 436.6 634.5ZM442.8 630.3 444.8 630.3 444.8 632 442.8 632ZM426.1 640.8 429.3 640.8 429.3 643.4 426.1 643.4ZM470.2 633.1 474.8 631.4 476.3 635.5 471.7 637.1ZM410.2 638.4 414.9 636.2 419.6 646.4 414.9 648.6ZM375.8 654 404.8 641.6 408.7 651.9 379.7 664.4ZM345.6 659.9 352.7 656.6 357.8 667.6 350.7 670.9ZM440.7 656.5 462.4 647.8 465.3 655 443.6 663.7ZM405.3 673.6 429.6 662.2 432.1 667.7 407.8 679.1ZM374 675.9 377.9 674.1 383.1 685.1 379.1 686.9ZM394.3 683.7 402.2 680 405 686 397.1 689.7ZM415 687.7 417.2 686.4 418.3 688.2 416 689.5ZM389.6 698.7 412.3 688.1 414.9 693.5 392.2 704.2ZM389.3 698.3 394 696.1 396.2 700.8 391.5 703ZM394.2 710.9 416.2 700.6 419 706.6 397 716.8ZM426.1 683.2 435.6 699.3 432.9 700.9 423.4 684.8ZM435 702.3 437.1 702.3 437.1 704.8 435 704.8ZM440.6 676.7 459.7 711 453.9 714.2 434.9 679.9ZM392.9 726 421.5 714.6 422.9 718.1 394.3 729.6ZM393.1 727 397.3 725.9 399.3 733.4 395.1 734.5ZM403.6 728.1 405.4 728.1 405.4 729.9 403.6 729.9ZM410.3 729.8 415.8 727.2 418.4 732.7 412.9 735.3ZM420.5 725 425.2 722.8 427.3 727.2 422.6 729.4ZM429.3 721 437.1 717.4 439.3 722.1 431.5 725.7ZM435.7 733.7 441.2 730.7 443.3 733 446.1 731.9 448.1 736.8 440.3 741.1ZM397.9 735.9 402.6 733.7 404.8 738.4 400.1 740.6ZM418.3 740 422.5 737.5 424.3 740.5 420.1 743ZM407.2 746.3 414.3 743 416.3 747.4 409.3 750.7ZM453.4 731.9 484.6 713.5 487.9 719.2 456.7 737.6ZM462.5 754.7 467.2 752.5 470.1 758.8 465.4 760.9ZM332 703.6 339.1 700.3 340.9 704.2 333.8 707.5ZM342.7 708.1 345.8 708.1 345.8 710.7 342.7 710.7ZM332.7 712.2 337.4 710 343.6 723.3 338.9 725.5ZM318.9 730.8 331.3 725.3 333.6 730.3 321.1 735.9ZM353.1 724 366.1 719.2 369.3 728.2 356.3 732.9ZM364.9 738.4 372.2 735.8 373.8 740.3 366.5 743ZM341.6 741.1 347.6 742.1 346.9 746.4 340.9 745.3ZM351.4 740.8 353.7 742.1 352.6 743.9 350.4 742.6ZM348.7 748.2 353.8 749.1 353 753.8 347.8 752.9ZM367 751.6 372.5 749 376.9 758.4 371.4 761ZM470 544.5 475.9 543 476.9 546.6 471 548.2ZM481.3 541.4 487.2 539.8 488.1 543.5 482.3 545.1ZM527.1 540 532.8 537.9 534.1 541.5 528.4 543.6ZM534.7 536.6 539.6 534.9 541.1 538.9 536.2 540.7ZM533.1 545.7 535.7 545.7 535.7 548.3 533.1 548.3ZM542.9 542.5 548.2 545.6 546 549.3 540.8 546.3ZM540.6 550.1 546.6 550.1 546.6 554.9 540.6 554.9ZM517.4 548.1 521.5 546.6 523 550.7 518.9 552.2ZM506 552.2 510.1 550.7 511.9 555.6 507.8 557.1ZM498.5 555.1 502.1 553.7 503.8 558.6 500.3 559.9ZM485.5 559.6 489.7 558.5 490.8 562.7 486.7 563.8ZM475.5 562.7 479 562.7 479 566.5 475.5 566.5ZM543 561.9 547.8 561.5 548.7 571.5 543.9 571.9ZM547.1 580.3 550.5 580.3 550.5 586.4 547.1 586.4ZM487.4 573 490 572.6 490.7 576.3 488.1 576.8ZM515.9 570 517.6 570 517.6 571.4 515.9 571.4ZM489.6 579.4 494.8 579.4 494.8 583.8 489.6 583.8ZM495.8 580.4 497.9 580.4 497.9 583.5 495.8 583.5ZM502.9 577.1 506.7 576.4 508.1 584.1 504.3 584.7ZM505.1 573.4 507.7 573.4 507.7 576 505.1 576ZM510.3 580.1 515.4 578.7 516.2 582.1 511.2 583.4ZM517.5 577.4 520.1 577.4 520.1 580.6 517.5 580.6ZM528.2 579.5 531.3 579.5 531.3 582.6 528.2 582.6ZM524.9 584.6 529.7 583.8 531.1 591.4 526.3 592.3ZM514.7 588.1 521.6 588.1 521.6 592.4 514.7 592.4ZM492.2 591.5 497 590.7 498 596.6 493.2 597.5ZM491.2 590.4 493.8 590.4 493.8 592.5 491.2 592.5ZM504.5 593.7 508.9 593.7 508.9 598.6 504.5 598.6ZM472.3 597.4 477.4 597.4 477.4 601.8 472.3 601.8ZM494.6 601.2 499.4 600.8 500.2 609.4 495.3 609.8ZM507.7 607.1 512 607.1 512 611.5 507.7 611.5ZM517.8 605.9 522.6 605 523.3 609.3 518.6 610.1ZM522.5 600.2 524.4 600.9 523.1 604.5 521.2 603.8ZM540.4 612.4 545 610.7 546.8 615.6 542.2 617.3ZM545.7 622.1 549.4 621.2 550.2 624.2 546.5 625.2ZM507.1 623 512.1 621.6 513.2 625.8 508.2 627.1ZM514.5 623 516.2 623 516.2 626.8 514.5 626.8ZM516.3 618.4 518.9 618.4 518.9 621 516.3 621ZM521.8 616.8 528.3 618 527.3 623.9 520.8 622.8ZM534.9 626.8 540.3 625.4 541.9 631.3 536.5 632.7ZM549 629.4 553.2 628.2 554.5 633.2 550.3 634.4ZM552.7 634.6 555.3 634.6 555.3 636.7 552.7 636.7ZM552.6 641.7 558.5 640.1 559.8 645.1 554 646.7ZM525.8 632.2 530.9 631.3 532 637.3 526.8 638.2ZM511.7 634 516.8 633.1 517.7 637.9 512.5 638.8ZM479.1 632.3 485.9 631.1 486.8 636.2 480 637.4ZM489.5 630.2 493.5 628.8 494.8 632.3 490.8 633.8ZM493.7 637.4 498.2 634.8 501.7 640.8 497.2 643.4ZM499.3 644.9 503.4 643.4 505.8 649.9 501.7 651.4ZM479.7 641.9 481.1 641.9 481.1 643.2 479.7 643.2ZM479 650.6 483.6 649 485.2 653.5 480.7 655.2ZM489.5 650.2 493.5 648.7 494.8 652.3 490.8 653.7ZM488.9 655.4 491 655.4 491 657.4 488.9 657.4ZM483.5 658.5 487.2 660.7 485.9 662.9 482.2 660.8ZM485.9 666.2 490.8 664.4 492.9 670.1 488 671.9ZM494.2 661 500.2 662.1 499.4 666.3 493.5 665.3ZM518.5 648.4 523.6 647.1 524.7 651.2 519.7 652.6ZM528.9 646.9 533.9 645.6 535.1 650.3 530.1 651.6ZM537.5 642.4 539.3 641.4 541 644.4 539.2 645.4ZM542.2 645.7 548.1 644.1 549.4 649.1 543.6 650.7ZM614.6 590.8 622.3 589.4 623.2 594.6 615.5 595.9ZM595.4 591.2 598.7 590.3 601.6 601.1 598.3 602ZM595.3 602 602 600.2 602.7 602.7 596 604.5ZM598.9 607.5 603.8 605.7 606 611.9 601.2 613.6ZM607.7 608 611 606 614.5 612 611.2 614ZM615.9 615.7 620.2 612.7 627.1 622.7 622.9 625.6ZM619.4 629 622.9 626.5 624.7 629.1 621.2 631.6ZM566.5 604.1 570.6 602.6 572.6 608.3 568.6 609.8ZM572.2 599.7 575.6 599.7 575.6 602.3 572.2 602.3ZM576.3 597.7 583.8 595.7 585.4 601.5 577.8 603.5ZM568.4 613.1 572.4 611.7 574.2 616.5 570.2 618ZM574.3 619 576.9 619 576.9 621.1 574.3 621.1ZM573.9 622.2 577.6 621.5 579.1 630 575.4 630.7ZM586.5 612.6 590.6 611.1 591.8 614.4 587.7 615.8ZM589.8 608 591.9 608 591.9 610.6 589.8 610.6ZM586.2 619.5 591.2 618.2 592.8 624 587.8 625.4ZM590.7 661.8 596.7 660.8 597.9 667.6 591.9 668.7ZM589.3 660.6 591.4 660.6 591.4 662.6 589.3 662.6ZM595.5 672.4 600.7 672.4 600.7 675 595.5 675ZM594.6 677.8 600.5 676.7 601.7 683.5 595.8 684.6ZM612.9 654.7 624.8 652.6 625.7 657.4 613.7 659.5ZM616 663.8 621.2 663.8 621.2 669.8 616 669.8ZM617.9 672.2 622.2 671.5 623.4 678 619.1 678.7ZM612.1 684.3 617 682.6 618.7 687.4 613.9 689.2ZM613.8 673.3 616.4 673.3 616.4 675.9 613.8 675.9ZM587 687.1 590.1 687.1 590.1 689.2 587 689.2ZM596 686.8 600.3 686.4 600.9 693 596.6 693.3ZM594.2 701 599.7 700.6 600.3 707.1 594.8 707.6ZM584.4 706.5 587.5 706.5 587.5 708.6 584.4 708.6ZM596.1 710.4 601.2 709.9 601.9 716.8 596.7 717.3ZM587.1 715.4 593.1 714.4 593.5 716.9 587.5 718ZM580.8 720.7 584.2 720.7 584.2 722.8 580.8 722.8ZM596.8 718.6 601.6 718.2 602.2 724.2 597.3 724.6ZM597.1 726.9 602.7 726.4 603.2 732.5 597.7 733ZM598.3 734.2 603.5 733.7 604.1 741.5 599 741.9ZM588.4 738.9 593.2 738.9 593.2 743.7 588.4 743.7ZM596.9 743.7 602.9 743.2 603.5 749.2 597.4 749.8ZM597.4 751.4 602.9 750.5 603.9 756.4 598.5 757.4ZM597.7 760.1 603.7 759.1 604.7 765.1 598.8 766.1ZM601.5 768.8 609.3 768.8 609.3 774.4 601.5 774.4ZM613.3 768.3 619.8 767.7 620.3 773.2 613.8 773.8ZM623.8 769.1 631.2 766.4 632.9 771.3 625.6 774ZM615.8 699 621.9 699 621.9 705.6 615.8 705.6ZM619.9 696.6 624 695.1 624.7 697 620.7 698.5ZM619.8 711 622 712.3 620.7 714.5 618.5 713.2ZM614.4 715.4 619.2 714.5 620.6 722.2 615.8 723ZM620.8 731.6 623.9 731.6 623.9 733.7 620.8 733.7ZM616.1 740.6 621 740.6 621 744.4 616.1 744.4ZM622.2 739.9 628.3 739.4 628.7 743.7 622.6 744.2ZM617 752.4 622.7 754.5 620.8 759.7 615.1 757.6ZM621.9 760.8 624.5 760.8 624.5 763.4 621.9 763.4ZM629.5 748.5 634.6 747.2 635.2 749.7 630.2 751ZM637.9 758.6 641.6 757.6 642.1 759.6 638.4 760.6ZM642.9 751.5 646.1 751.5 646.1 753.6 642.9 753.6ZM629.7 636.6 637.4 635 639.2 643.4 631.5 645ZM634.3 648.8 637.9 647.5 639.8 652.7 636.2 654ZM633.1 660 638.2 659.1 639.3 665 634.2 665.9ZM639.5 668.5 643.7 667.4 645 672.1 640.8 673.2ZM647.6 642.4 652.5 642.4 652.5 647.3 647.6 647.3ZM655.5 642.8 658.1 642.3 659.1 648.3 656.6 648.8ZM653.6 653.5 659.7 653.5 659.7 658.4 653.6 658.4ZM655.4 661.8 660.2 660.9 661.3 667.4 656.5 668.2ZM662.7 673.9 667.9 673.9 667.9 679.5 662.7 679.5ZM671.9 674 676.7 673.6 677.3 680.5 672.5 680.9ZM683.3 672.6 693.7 672.6 693.7 680.9 683.3 680.9ZM689.7 682.3 692.8 682.3 692.8 686.1 689.7 686.1ZM636 680.5 646.4 679.6 646.7 683.3 636.4 684.3ZM642.6 682 646.3 681.3 647.8 689.8 644.1 690.5ZM660.5 684.2 666.6 684.2 666.6 689.4 660.5 689.4ZM666.6 682.9 670.9 682.9 670.9 685.5 666.6 685.5ZM657.7 692.9 662.5 692.9 662.5 697.2 657.7 697.2ZM666.6 692.6 670.9 692.6 670.9 694.7 666.6 694.7ZM673.5 695 677.8 695 677.8 699.3 673.5 699.3ZM666.3 697.3 668.4 697.3 668.4 698.7 666.3 698.7ZM691.7 691.9 694.3 691.9 694.3 693.7 691.7 693.7ZM682.4 699.3 686.7 698.5 687 700.2 682.7 701ZM683 704.2 685.6 704.2 685.6 706.8 683 706.8ZM645.5 694.9 649.8 694.5 650.4 701.1 646.1 701.5ZM647.3 693.7 651.1 693.7 651.1 695.4 647.3 695.4ZM623.4 711.7 629.9 710.6 631 716.5 624.5 717.7ZM630.8 717.5 632.9 717.5 632.9 720.1 630.8 720.1ZM646.5 707.9 651.3 707.5 651.9 714.1 647 714.5ZM647.5 718.2 652.7 717.8 653.2 723.8 648.1 724.3ZM643 719.8 645 718.2 646.7 720.2 644.7 721.8ZM627.6 723.8 640.4 721.5 641.3 726.6 628.5 728.9ZM659.1 704.1 664.2 703.2 665.2 709.2 660.1 710.1ZM660.6 713.4 664.9 713 665.5 719 661.1 719.4ZM661.8 722.6 667 722.1 667.7 729.9 662.5 730.3ZM663.8 732.3 668.7 731.9 669.1 737.4 664.3 737.9ZM677.9 729.7 681.7 729.7 681.7 732.8 677.9 732.8ZM631.3 738.2 636.5 737.7 636.9 742 631.7 742.5ZM641.5 735.2 647.2 737.3 645.4 742.2 639.7 740.1ZM649.4 736.3 656.3 735.7 656.9 741.8 650 742.4ZM671.5 742.1 679.3 741.4 679.8 747.4 672.1 748.1ZM687.9 741.1 694.8 740.5 695.3 746 688.4 746.6ZM867.1 589.5 886.8 591.2 886.2 596.8 866.6 595.4ZM892 599.6 912.5 600.3 912.2 607.7 891.4 606.8ZM891.1 618.1 912.3 619.2 912 625.4 895.2 625 895 627 890.5 626.7ZM877.3 620 884.8 620.4 883.9 641.7 876.2 641.4ZM908.4 715.2 930.5 717.5 926.2 754.4 904.4 751.8ZM861.8 726.6 870.3 723.5 872 728 863.4 731.1ZM874.2 711.7 876.7 711 877.8 715.2 875.3 715.8ZM863.6 831.8 867.3 838.9 865 840.1 861.2 833ZM868.6 831.6 872.2 837.5 869.7 839 866.2 833.2ZM869.7 828.9 871.6 832.4 870.4 833 868.6 829.5ZM873.1 830.5 874.8 834.1 873.7 834.6 872.1 831ZM873.3 826.9 876.5 825.7 876.9 826.7 873.6 827.9ZM876 829.2 879.5 828.1 880 829.6 876.6 830.8ZM882.9 829.1 885.3 834.3 884.2 834.8 881.8 829.6ZM881.5 837.1 884.1 843.3 883.2 843.6 880.6 837.5ZM872.7 840.4 876.6 850.5 874.5 851.3 870.6 841.3ZM882.2 852.2 889 850.3 889.3 851.5 882.5 853.5ZM879.1 856.4 882.7 855 885.6 863 882 864.3ZM875.4 861.3 880.3 859.5 881.4 862.6 876.6 864.4ZM381.5 767 384 767.7 382.3 773.9 379.9 773.2ZM393.5 769.2 396.1 769.2 396.1 773.8 393.5 773.8ZM186 842 190.8 842 190.8 846 186 846ZM706.8 810.1 708.9 812.2 706.8 814.3 704.7 812.2ZM272.5 602.3 278.3 602.7 278.2 604.1 272.4 603.8ZM287.3 595.9 289.2 596.3 287.6 603.8 285.7 603.4ZM284.8 604.9 288.1 605.6 287.1 610.3 283.8 609.6ZM284 610.8 285.9 611.2 285 615.4 283.1 615ZM293.6 596.1 298.4 596.9 296.7 606.5 291.9 605.6ZM290.8 610.6 295.5 611.6 293.7 620.1 289 619.1ZM262.7 618.2 269.3 620 266.6 629.8 260.1 628.1ZM274 620.7 278.2 621.8 276.6 627.9 272.4 626.8ZM316.2 600.8 320.6 600.8 320.6 605.6 316.2 605.6ZM310.4 604.9 312.5 604.9 312.5 606.4 310.4 606.4ZM309.5 608.1 313.4 608.1 313.4 609.6 309.5 609.6ZM316.3 608.1 322.1 608.1 322.1 609.6 316.3 609.6ZM316.3 609.7 320.1 609.7 320.1 614.5 316.3 614.5ZM244.8 542.5 240.4 561.2 234.8 559.8 239.2 541.1ZM398.8 555.1 404.5 553.6 405.3 556.5 399.6 558ZM408.4 552.7 416.2 550.6 417.2 554.2 409.4 556.3ZM423.1 549.8 429.4 548.7 430 552.1 423.7 553.2ZM437.1 547.2 444.1 546.6 444.4 550.4 437.4 551ZM448.8 547.2 453.6 546.7 453.8 549.4 449 549.8ZM458.4 544.8 464.3 544.3 464.6 548.6 458.7 549.1ZM416.9 570.6 420.6 570 421.2 573.7 417.5 574.3ZM426 569.1 429.7 568.5 430.4 572.2 426.6 572.8ZM434.8 567 440.1 566.1 440.9 570.8 435.6 571.8ZM444.7 565.4 448.4 564.7 449.3 569.5 445.6 570.1ZM455.3 564.5 458.5 564.2 459.1 571.2 455.9 571.5ZM464.9 564.2 468.1 563.6 468.8 567.9 465.7 568.4ZM420.2 599.2 423.9 598.5 424.3 600.6 420.6 601.3ZM450.9 598.2 455.7 597.4 456.4 601.6 451.6 602.4ZM462.6 595.8 466.9 595.8 466.9 600.1 462.6 600.1ZM364.7 311.1 367.5 312.7 365.9 315.5 363.1 313.9ZM371.8 306.8 374.6 308.4 373 311.2 370.2 309.6ZM102.1 174.2 104.8 176.5 103 178.5 100.4 176.3ZM110.1 170.9 114.3 174.4 111.3 178 107.1 174.5ZM115.6 164.7 118.5 167.2 116.7 169.5 113.7 167ZM119.2 168.8 123.3 172.3 120.1 176.2 115.9 172.7ZM113.8 177 116.5 177 116.5 179.7 113.8 179.7ZM639.3 597.2 643.2 596.9 643.6 601.2 639.7 601.5ZM635.4 608.7 638.8 608.1 640.1 615.7 636.7 616.3ZM641.3 608.4 643.4 608 644.1 611.4 641.9 611.8ZM637.3 619.4 641.5 618.6 642.9 626.3 638.6 627.1ZM642.6 630.1 646.8 628.9 649 637.3 644.8 638.4ZM650.7 631.6 652.7 631.1 653.8 634.8 651.7 635.4ZM371.4 347.3 389 347.1 389.5 356.6 386.7 356.4 386.4 355.1 382.1 354.8 381.9 352.9 377.1 352.5 376.9 350.3 374.7 349.6 371.8 349.3ZM396 347.5 400.9 340.1 402.4 341.2 397.5 348.5ZM375 360.2 376.6 360.4 375.9 364.4 374.3 364.1ZM377.4 358.5 379.7 358.8 379.1 362.5 376.8 362.2Z"/><circle cx="892.2" cy="743" r="6.2"/><circle cx="890.7" cy="758" r="5.8"/><circle cx="904.1" cy="764.5" r="7.1"/><circle cx="370.3" cy="348.3" r="2.1"/></g></svg></body></html>
